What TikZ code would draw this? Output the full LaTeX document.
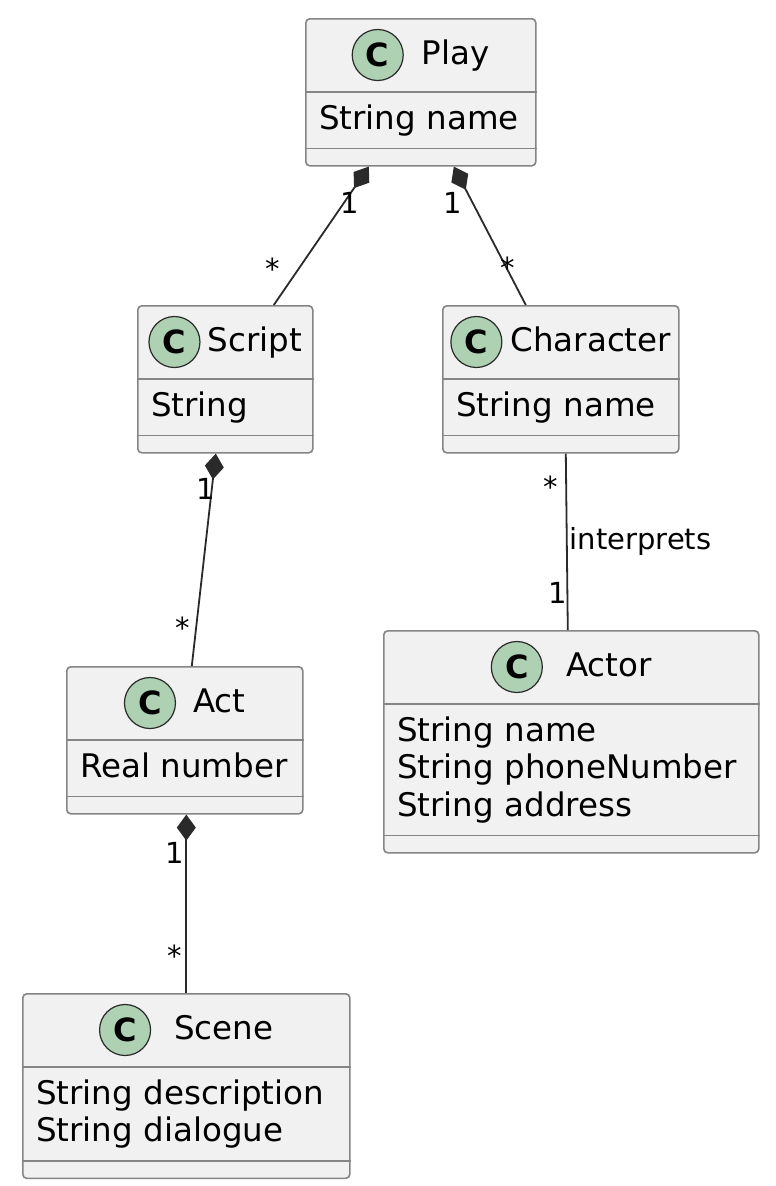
\documentclass[tikz,border=0pt]{standalone}
\usepackage{fontspec}
\setmainfont{DejaVu Sans}
\usetikzlibrary{arrows.meta}

\definecolor{boxfill}{HTML}{F1F1F1}
\definecolor{boxline}{HTML}{858585}
\definecolor{spotfill}{HTML}{ADD1B2}
\definecolor{linecol}{HTML}{2A2A2A}

\tikzset{
  classbox/.style={draw=boxline,fill=boxfill,line width=1.6pt,rounded corners=4pt,inner sep=0pt},
  sepline/.style={draw=boxline,line width=1.6pt},
  spot/.style={circle,draw=linecol,fill=spotfill,line width=1.2pt,minimum size=51pt,inner sep=0pt,
    font=\fontsize{32pt}{36pt}\bfseries},
  classname/.style={inner sep=0pt,font=\fontsize{32.5pt}{37.5pt}\selectfont},
  attr/.style={inner sep=0pt,font=\fontsize{32.5pt}{37.5pt}\selectfont},
  mult/.style={inner sep=0pt,font=\fontsize{29pt}{33pt}\selectfont},
  comp/.style={draw=linecol,line width=1.8pt,arrows={Diamond[length=26pt,width=19pt]-}},
  assoc/.style={draw=linecol,line width=1.8pt}
}

% id, left, top, width, lines, gap, name, attributes
\newcommand\umlclass[8]{%
  \pgfmathsetmacro{\boxh}{109.5+37.5*#5}
  \node[classbox,minimum width=#4pt,minimum height=\boxh pt,anchor=north west] (#1) at (#2,#3) {};
  \draw[sepline] ([yshift=-74pt]#1.north west) -- ([yshift=-74pt]#1.north east);
  \draw[sepline] ([yshift=18pt]#1.south west) -- ([yshift=18pt]#1.south east);
  \node[classname,anchor=base] (#1-title) at ([yshift=-46.5pt]#1.north) {\hspace*{\dimexpr52pt+#6pt\relax}#7};
  \node[spot] (#1-c) at ([xshift=26pt,yshift=9.5pt]#1-title.base west) {C};
  \foreach \a [count=\i] in {#8} {
    \node[attr,anchor=base west] (#1-a\i) at ([xshift=14pt,yshift={-73.5pt-37.5pt*\i}]#1.north west) {\a};
  }
}

\begin{document}
\begin{tikzpicture}[x=1pt,y=-1pt]
  \fill[white] (0,0) rectangle (776,1186);
  \useasboundingbox (0,0) rectangle (776,1186);

  \umlclass{Play}{305}{18}{230}{1}{18}{Play}{String name}
  \umlclass{Script}{137}{305}{175}{1}{7}{Script}{String}
  \umlclass{Character}{442}{305}{236}{1}{8}{Character}{String name}
  \umlclass{Act}{66}{666}{236}{1}{17}{Act}{Real number}
  \umlclass{Actor}{383}{630}{375}{3}{23}{Actor}{String name, String phoneNumber, String address}
  \umlclass{Scene}{22}{993}{327}{2}{23}{Scene}{String description, String dialogue}

  \draw[comp] ([xshift=-52pt]Play.south) --
    node[mult,pos=.264,xshift=6pt] (ps-1) {1}
    node[mult,pos=.736,xshift=-26pt] (ps-n) {*} ([xshift=48.5pt]Script.north);
  \draw[comp] ([xshift=33pt]Play.south) --
    node[mult,pos=.264,xshift=-20pt] (pc-1) {1}
    node[mult,pos=.729,xshift=1.5pt] (pc-n) {*} ([xshift=-35pt]Character.north);
  \draw[comp] ([xshift=-9.5pt]Script.south) --
    node[mult,pos=.168,xshift=-6pt] (sa-1) {1}
    node[mult,pos=.822,xshift=-13pt] (sa-n) {*} ([xshift=7pt]Act.north);
  \draw[assoc] ([xshift=5pt]Character.south) --
    node[mult,pos=.185,xshift=-15pt] (ca-n) {*}
    node[mult,pos=.5,anchor=west,xshift=2pt] (ca-lbl) {interprets}
    node[mult,pos=.792,xshift=-10pt] (ca-1) {1} ([xshift=-3.5pt]Actor.north);
  \draw[comp] ([xshift=1.5pt]Act.south) --
    node[mult,pos=.217,xshift=-12pt] (as-1) {1}
    node[mult,pos=.789,xshift=-12pt] (as-n) {*} (Scene.north);
\end{tikzpicture}
\end{document}
